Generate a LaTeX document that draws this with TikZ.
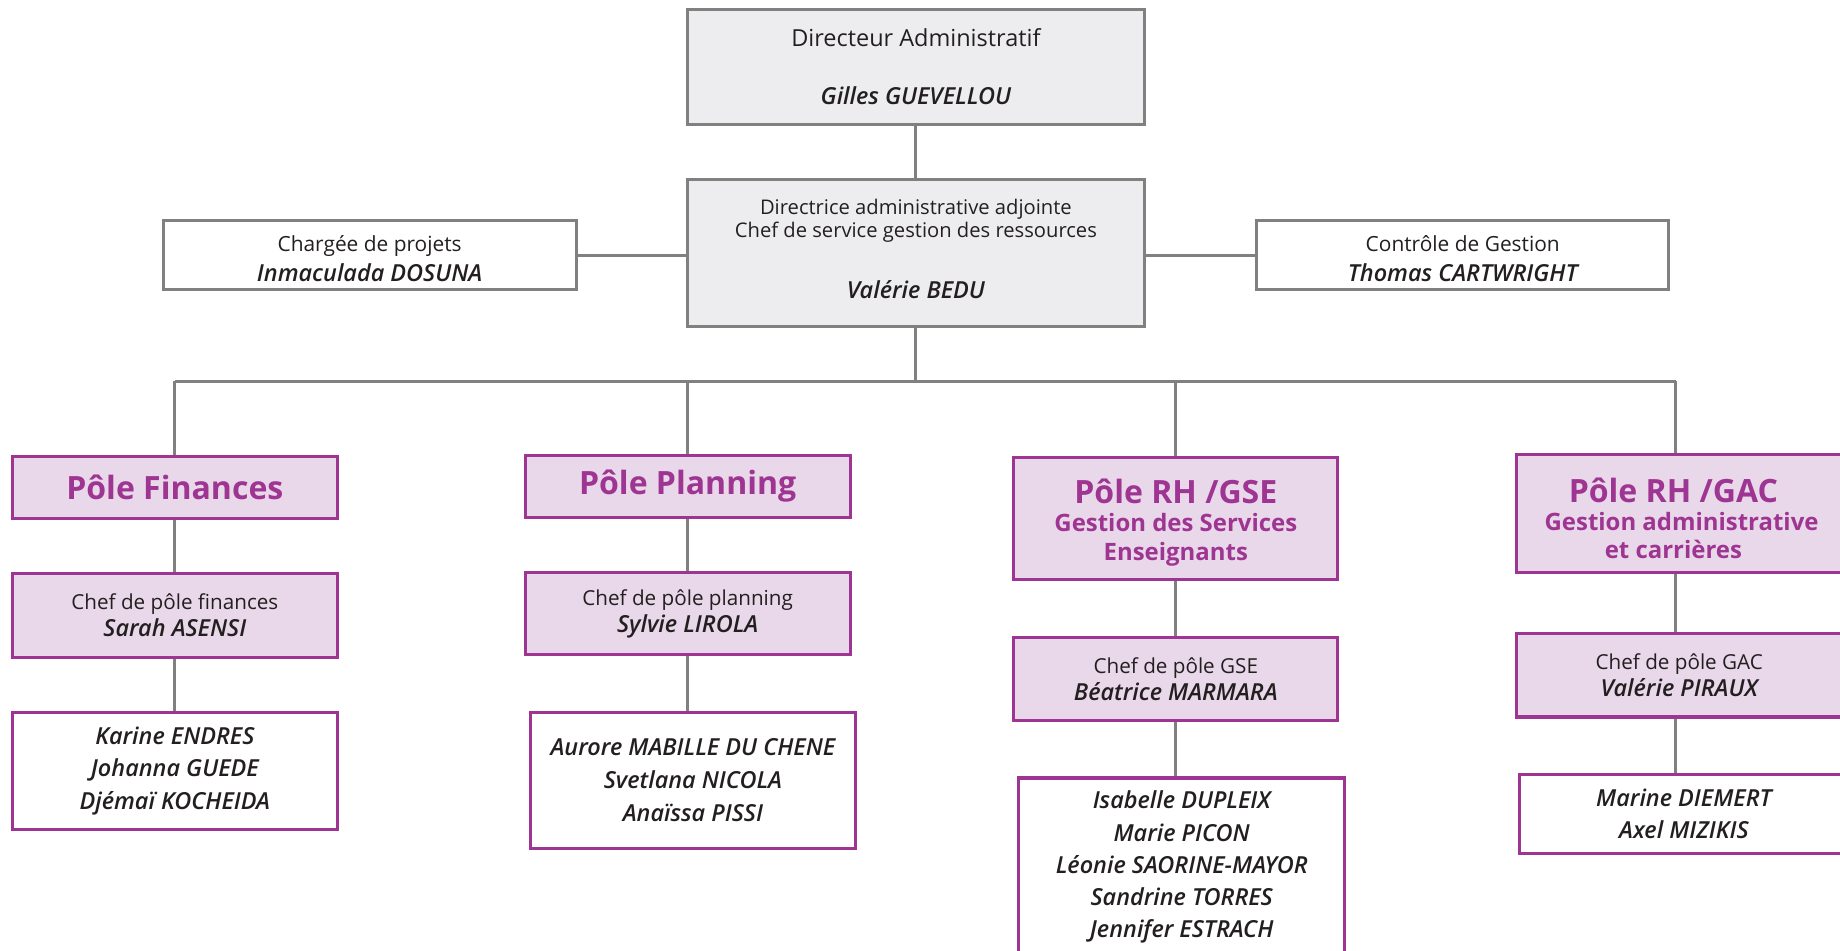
\documentclass[tikz,border=0pt]{standalone}
\usepackage{fontspec}
\setmainfont{Open Sans}
\newfontfamily\namefont{Open Sans Semibold Italic}
\definecolor{grayline}{HTML}{808080}
\definecolor{grayfill}{HTML}{EDEDEF}
\definecolor{purp}{HTML}{9E3592}
\definecolor{purpfill}{HTML}{E9D8E9}
\definecolor{txt}{HTML}{231F20}
\newcommand\pname[1]{{\namefont\fontsize{20}{24}\selectfont #1}}
\newcommand\subfont{\fontsize{20.4}{25}\selectfont}
\tikzset{
  box/.style={rectangle, draw, line width=2.6pt, inner sep=0pt, align=center, text=txt},
  graybox/.style={box, draw=grayline, fill=grayfill},
  whitebox/.style={box, draw=grayline, fill=white},
  pbox/.style={box, draw=purp, fill=purpfill},
  pwbox/.style={box, draw=purp, fill=white},
  poletitle/.style={pbox, text=purp, font=\bfseries\fontsize{27.3}{25}\selectfont},
  link/.style={draw=grayline, line width=2.6pt}
}
\begin{document}
\begin{tikzpicture}[x=1pt,y=-1pt]
\useasboundingbox (0,0) rectangle (1568,810);
\clip (0,0) rectangle (1568,810);
% top
\node[graybox, minimum width=389pt, minimum height=98pt, font=\fontsize{20}{21}\selectfont] (dir) at (780.5,57)
  {Directeur Administratif\\[28pt]\pname{Gilles GUEVELLOU}};
\node[graybox, minimum width=389pt, minimum height=125pt, font=\fontsize{17.2}{20}\selectfont] (dirad) at (780.5,215.5)
  {Directrice administrative adjointe\\Chef de service gestion des ressources\\[32pt]\pname{Valérie BEDU}\rule[-7pt]{0pt}{7pt}};
\node[whitebox, minimum width=352pt, minimum height=59pt, font=\fontsize{17.8}{26}\selectfont] (charge) at (315,217.5)
  {\rule{0pt}{19pt}Chargée de projets\\\pname{Inmaculada DOSUNA}};
\node[whitebox, minimum width=351pt, minimum height=59pt, font=\fontsize{17.8}{26}\selectfont] (ctrl) at (1246.5,217.5)
  {\rule{0pt}{19pt}Contrôle de Gestion\\\pname{Thomas CARTWRIGHT}};
% poles
\node[poletitle, minimum width=277pt, minimum height=53pt] (fin) at (149,415.5) {Pôle Finances};
\node[poletitle, minimum width=277pt, minimum height=53pt] (plan) at (586,414.5) {Pôle Planning};
\node[poletitle, minimum width=276pt, minimum height=104pt] (gse) at (1002,442)
  {\rule{0pt}{28pt}Pôle RH /GSE\\[-1.5pt]\subfont Gestion des Services\\\subfont Enseignants};
\node[poletitle, minimum width=282pt, minimum height=101pt] (gac) at (1433,437.5)
  {\rule{0pt}{29pt}Pôle RH /GAC\hspace*{14pt}\\[-1.5pt]\subfont Gestion administrative\hspace*{14pt}\\[-1pt]\subfont et carrières\hspace*{14pt}};
% chefs
\node[pbox, minimum width=277pt, minimum height=71pt, font=\fontsize{17.6}{23}\selectfont] (finc) at (149,524.5)
  {Chef de pôle finances\\\pname{Sarah ASENSI}};
\node[pbox, minimum width=277pt, minimum height=70pt, font=\fontsize{17.6}{23}\selectfont] (planc) at (586,523)
  {Chef de pôle planning\\\pname{Sylvie LIROLA}};
\node[pbox, minimum width=276pt, minimum height=71pt, font=\fontsize{17.6}{23}\selectfont] (gsec) at (1002,578.5)
  {Chef de pôle GSE\\\pname{Béatrice MARMARA}};
\node[pbox, minimum width=282pt, minimum height=71pt, font=\fontsize{17.6}{23}\selectfont] (gacc) at (1433,575.5)
  {Chef de pôle GAC\hspace*{4pt}\\\pname{Valérie PIRAUX}\hspace*{4pt}};
% staff
\node[pwbox, minimum width=277pt, minimum height=100pt, font=\fontsize{17}{28}\selectfont] (fins) at (149,657)
  {\pname{Karine ENDRES}\\\pname{Johanna GUEDE}\\\pname{Djémaï KOCHEIDA}};
\node[pwbox, minimum width=277pt, minimum height=116pt, font=\fontsize{17}{28}\selectfont] (plans) at (590.5,665)
  {\pname{Aurore MABILLE DU CHENE}\\\pname{Svetlana NICOLA}\\\pname{Anaïssa PISSI}};
\node[pwbox, minimum width=278pt, minimum height=152pt, font=\fontsize{17}{27.5}\selectfont] (gses) at (1007,739)
  {\pname{Isabelle DUPLEIX}\\\pname{Marie PICON}\\\pname{Léonie SAORINE-MAYOR}\\\pname{Sandrine TORRES}\\\pname{Jennifer ESTRACH}};
\node[pwbox, minimum width=280pt, minimum height=67pt, font=\fontsize{17}{28}\selectfont] (gacs) at (1435,693.5)
  {\pname{Marine DIEMERT}\\\pname{Axel MIZIKIS}};
% connectors
\coordinate (bus) at (778,325);
\draw[link] (dir.south) -- (dirad.north);
\draw[link] (charge.east) -- (charge.east -| dirad.west);
\draw[link] (ctrl.west) -- (ctrl.west -| dirad.east);
\draw[link] (dirad.south) -- (dirad.south |- bus);
\draw[link] (fin.north |- bus) -- ([xshift=-5pt]gac.north |- bus);
\draw[link] (fin.north |- bus) -- (fin.north);
\draw[link] (plan.north |- bus) -- (plan.north);
\draw[link] (gse.north |- bus) -- (gse.north);
\draw[link] ([xshift=-5pt]gac.north |- bus) -- ([xshift=-5pt]gac.north);
\draw[link] (fin.south) -- (finc.north);
\draw[link] (finc.south) -- (finc.south |- fins.north);
\draw[link] (plan.south) -- (planc.north);
\draw[link] (planc.south) -- (planc.south |- plans.north);
\draw[link] (gse.south) -- (gsec.north);
\draw[link] (gsec.south) -- (gsec.south |- gses.north);
\draw[link] ([xshift=-5pt]gac.south) -- ([xshift=-5pt]gacc.north);
\draw[link] ([xshift=-5pt]gacc.south) -- ([xshift=-5pt]gacc.south |- gacs.north);
\end{tikzpicture}
\end{document}
